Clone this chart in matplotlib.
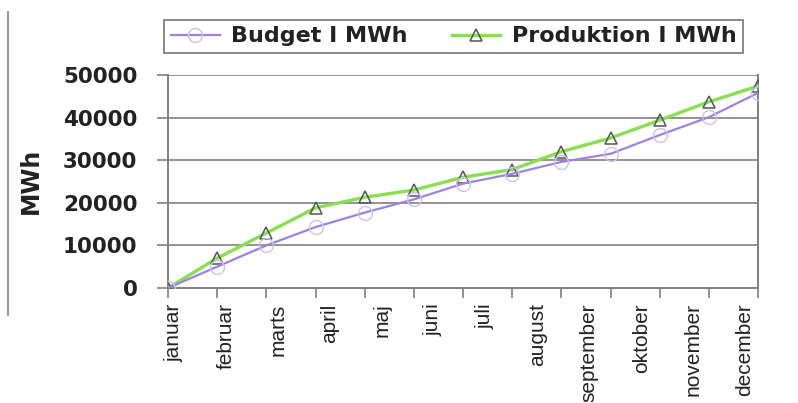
import numpy as np
import matplotlib.pyplot as plt
from matplotlib.lines import Line2D

# data (cumulative MWh)
months = ['januar', 'februar', 'marts', 'april', 'maj', 'juni', 'juli',
          'august', 'september', 'oktober', 'november', 'december']
budget = [0, 5000, 10000, 14300, 17700, 20800, 24500, 26800, 29600,
          31500, 35900, 40100, 45800]
produktion = [0, 7000, 12900, 18800, 21300, 23000, 26000, 27800, 32000,
              35200, 39400, 43700, 47400]
yticks = [0, 10000, 20000, 30000, 40000, 50000]

fig = plt.figure(figsize=(7.98, 4.03), dpi=100)
ax = fig.add_axes([168 / 798, 1 - 288 / 403, 590 / 798, 213 / 403])

x = np.arange(len(produktion))
grid_col = '#808080'

for v in yticks[1:]:
    ax.axhline(v, color=grid_col, lw=1.2, zorder=1)

ax.plot(x, produktion, color='#88e050', lw=2.4, marker='^', ms=9,
        mfc='none', mec='#555555', mew=1.1, label='Produktion I MWh', zorder=3)
ax.plot(x, budget, color='#9b82e6', lw=1.6, marker='o', ms=10,
        mfc='none', mec='#cbc2ec', mew=1.0, label='Budget I MWh', zorder=4)

ax.set_xlim(0, 12)
ax.set_ylim(0, 50000)
ax.set_yticks(yticks)
ax.set_yticklabels([str(v) for v in yticks], fontsize=15.5,
                   fontweight='bold', color='#222222')
ax.tick_params(axis='y', direction='out', length=8, width=1.2,
               color=grid_col, pad=14)

# major ticks at the points, month labels set a bit apart as in the scan
ax.set_xticks(x)
ax.set_xticklabels([''] * len(x))
ax.tick_params(axis='x', which='major', direction='out', length=7,
               width=1.2, color=grid_col)
label_pos = 0.12 + np.arange(len(months)) * 1.056
ax.set_xticks(label_pos, minor=True)
ax.set_xticklabels(months, minor=True, rotation=90, fontsize=15,
                   family='Liberation Sans', color='#222222', va='top')
ax.tick_params(axis='x', which='minor', length=0, pad=11)

for s in ['left', 'right', 'bottom']:
    ax.spines[s].set_color(grid_col)
    ax.spines[s].set_linewidth(1.4)
ax.spines['top'].set_visible(False)

fig.text(31 / 798, 1 - 181 / 403, 'MWh', rotation=90, fontsize=17,
         fontweight='bold', color='#222222', ha='center', va='center')

h, l = ax.get_legend_handles_labels()
leg = fig.legend(h[::-1], l[::-1], loc='center', ncol=2,
                 bbox_to_anchor=(453.5 / 798, 1 - 36.5 / 403),
                 frameon=True, fancybox=False, edgecolor='#555555',
                 prop={'weight': 'bold', 'size': 16}, handlelength=2.2,
                 handletextpad=0.5, columnspacing=2.0, borderpad=0.3)
leg.get_frame().set_linewidth(1.2)
for t in leg.get_texts():
    t.set_color('#222222')

# scan border on the left
fig.add_artist(Line2D([8 / 798, 8 / 798], [1 - 12 / 403, 1 - 315 / 403],
                      color='#999999', lw=1.5))

fig.savefig('out.png', dpi=100)
